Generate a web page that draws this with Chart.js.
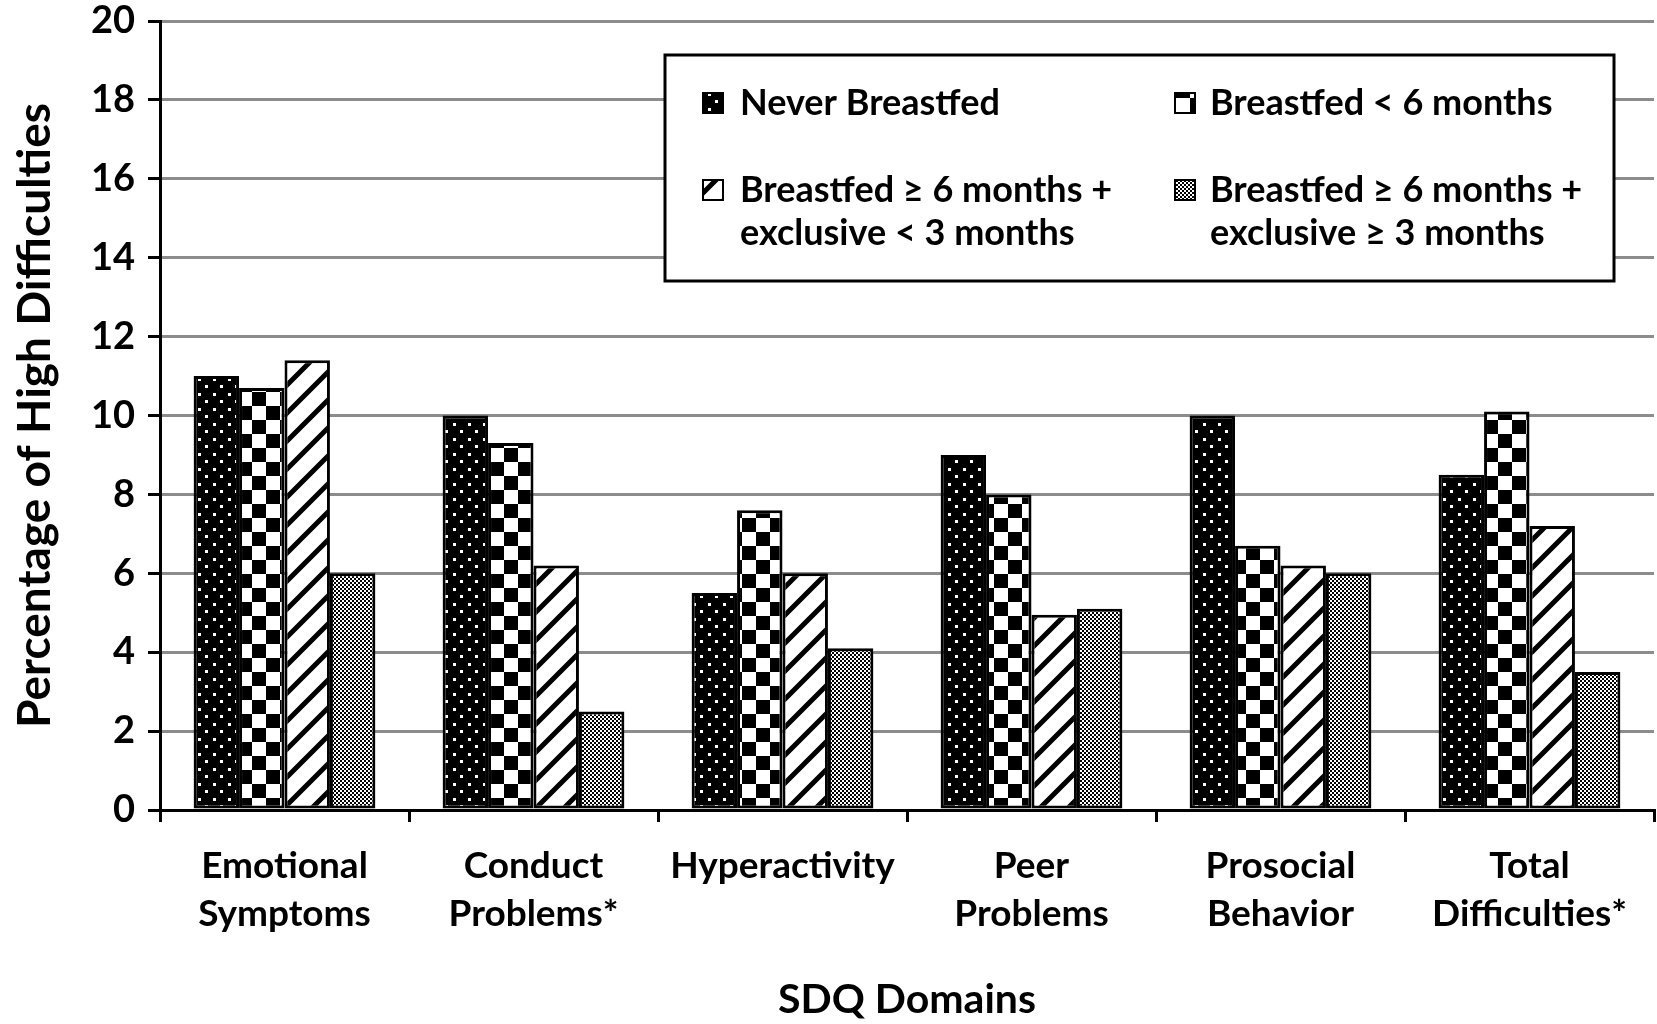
<!DOCTYPE html>
<html>
<head>
<meta charset="utf-8">
<script src="https://cdn.jsdelivr.net/npm/chart.js@4.4.1/dist/chart.umd.min.js"></script>
<style>
  html, body { margin: 0; padding: 0; background: #fff; }
  #wrap { width: 1657px; height: 1024px; }
</style>
</head>
<body>
<div id="wrap"><canvas id="chart" width="1657" height="1024"></canvas></div>
<script>
// categories along the x axis
var categories = [
    ["Emotional", "Symptoms"],
    ["Conduct", "Problems*"],
    ["Hyperactivity"],
    ["Peer", "Problems"],
    ["Prosocial", "Behavior"],
    ["Total", "Difficulties*"]
];

// series (percent with high difficulties)
var neverBreastfed   = [11.0, 10.0, 5.5, 9.0, 10.0, 8.5];
var breastfedUnder6  = [10.7, 9.3, 7.6, 8.0, 6.7, 10.1];
var bf6ExclUnder3    = [11.4, 6.2, 6.0, 4.95, 6.2, 7.2];
var bf6ExclOver3     = [6.0, 2.5, 4.1, 5.1, 6.0, 3.5];

var seriesNames = [
    ["Never Breastfed"],
    ["Breastfed < 6 months"],
    ["Breastfed \u2265 6 months +", "exclusive < 3 months"],
    ["Breastfed \u2265 6 months +", "exclusive \u2265 3 months"]
];

var yTicks = [0, 2, 4, 6, 8, 10, 12, 14, 16, 18, 20];

var FONT = "Lato, 'Open Sans', sans-serif";

// fill patterns, one per series
function makeTile(w, h, draw) {
    var c = document.createElement("canvas");
    c.width = w; c.height = h;
    var g = c.getContext("2d");
    draw(g, w, h);
    return document.getElementById("chart").getContext("2d").createPattern(c, "repeat");
}

var dotPattern = makeTile(15, 15, function(g, w, h) {
    g.fillStyle = "#000"; g.fillRect(0, 0, w, h);
    g.fillStyle = "#fff";
    g.fillRect(3, 3, 3, 3);
    g.fillRect(10, 10, 3, 3);
});

var checkPattern = makeTile(28, 28, function(g, w, h) {
    g.fillStyle = "#fff"; g.fillRect(0, 0, w, h);
    g.fillStyle = "#000";
    g.fillRect(0, 0, 14, 14);
    g.fillRect(14, 14, 14, 14);
});

var stripePattern = makeTile(28, 28, function(g, w, h) {
    g.fillStyle = "#fff"; g.fillRect(0, 0, w, h);
    g.strokeStyle = "#000"; g.lineWidth = 5;
    g.beginPath();
    g.moveTo(-4, h + 4); g.lineTo(w + 4, -4);
    g.moveTo(-4, 4); g.lineTo(4, -4);
    g.moveTo(w - 4, h + 4); g.lineTo(w + 4, h - 4);
    g.stroke();
});

var finePattern = makeTile(4, 4, function(g, w, h) {
    g.fillStyle = "#fff"; g.fillRect(0, 0, w, h);
    g.fillStyle = "#000";
    g.fillRect(0, 0, 2, 2);
    g.fillRect(2, 2, 2, 2);
});

var patterns = [dotPattern, checkPattern, stripePattern, finePattern];

// legend box drawn on the canvas (two columns, wrapped labels)
var boxLegend = {
    id: "boxLegend",
    afterDraw: function(chart) {
        var ctx = chart.ctx;
        ctx.save();
        ctx.fillStyle = "#fff";
        ctx.fillRect(665, 55, 949, 226);
        ctx.strokeStyle = "#000";
        ctx.lineWidth = 3;
        ctx.strokeRect(665, 55, 949, 226);

        var slots = [
            { mx: 703, tx: 740, y: 103 },
            { mx: 1175, tx: 1210, y: 103 },
            { mx: 703, tx: 740, y: 190 },
            { mx: 1175, tx: 1210, y: 190 }
        ];
        ctx.font = "bold 36px " + FONT;
        ctx.textBaseline = "middle";
        ctx.textAlign = "left";
        slots.forEach(function(s, i) {
            ctx.fillStyle = patterns[i];
            ctx.fillRect(s.mx, s.y - 10, 20, 20);
            ctx.lineWidth = 2;
            ctx.strokeStyle = "#000";
            ctx.strokeRect(s.mx, s.y - 10, 20, 20);
            ctx.fillStyle = "#000";
            seriesNames[i].forEach(function(line, j) {
                ctx.fillText(line, s.tx, s.y + j * 43);
            });
        });
        ctx.restore();
    }
};

var datasets = [neverBreastfed, breastfedUnder6, bf6ExclUnder3, bf6ExclOver3].map(function(vals, i) {
    return {
        label: seriesNames[i].join(" "),
        data: vals,
        backgroundColor: patterns[i],
        borderColor: "#000",
        borderWidth: 3,
        borderSkipped: false,
        categoryPercentage: 0.73,
        barPercentage: 1.0
    };
});

new Chart(document.getElementById("chart"), {
    type: "bar",
    data: { labels: categories, datasets: datasets },
    plugins: [boxLegend],
    options: {
        responsive: false,
        animation: false,
        layout: { padding: { top: 21, right: 3, left: 0, bottom: 0 } },
        plugins: {
            legend: { display: false },
            tooltip: { enabled: false }
        },
        scales: {
            x: {
                grid: {
                    offset: true,
                    drawOnChartArea: false,
                    drawTicks: true,
                    tickLength: 12,
                    color: "#000",
                    lineWidth: 3
                },
                border: { color: "#000", width: 3 },
                ticks: {
                    color: "#000",
                    padding: 20,
                    maxRotation: 0,
                    autoSkip: false,
                    font: { family: FONT, size: 37, weight: "bold", lineHeight: 1.3 }
                },
                title: {
                    display: true,
                    text: "SDQ Domains",
                    color: "#000",
                    padding: { top: 0, bottom: 0 },
                    font: { family: FONT, size: 41, weight: "bold" }
                },
                afterFit: function(scale) {
                    scale.height = 214;
                    scale.paddingLeft = 0;
                    scale.paddingRight = 0;
                }
            },
            y: {
                min: 0,
                max: 20,
                afterBuildTicks: function(scale) {
                    scale.ticks = yTicks.map(function(v) { return { value: v }; });
                },
                grid: {
                    color: "#8c8c8c",
                    lineWidth: 3,
                    tickColor: "#000",
                    tickLength: 12
                },
                border: { color: "#000", width: 3 },
                ticks: {
                    color: "#000",
                    padding: 13,
                    font: { family: FONT, size: 38, weight: "bold" }
                },
                title: {
                    display: true,
                    text: "Percentage of High Difficulties",
                    color: "#000",
                    padding: { top: 8, bottom: 0 },
                    font: { family: FONT, size: 46, weight: "bold" }
                },
                afterFit: function(scale) {
                    scale.width = 160;
                    scale.paddingTop = 0;
                    scale.paddingBottom = 0;
                }
            }
        }
    }
});
</script>
</body>
</html>
